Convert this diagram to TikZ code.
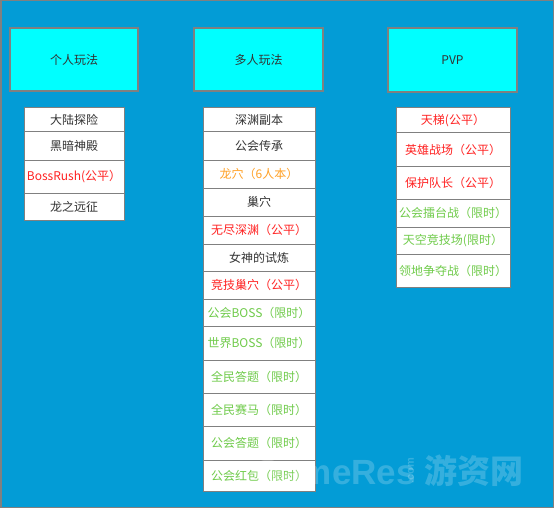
\documentclass[tikz,border=0pt]{standalone}
\usepackage{fontspec}
\setmainfont{Noto Sans CJK SC}
\newfontfamily\wmlatin{Liberation Sans}
\usetikzlibrary{positioning}
\definecolor{bgblue}{HTML}{039CD6}
\definecolor{hdrcyan}{HTML}{00FFFF}
\definecolor{edgegray}{HTML}{808080}
\definecolor{txtdark}{HTML}{333333}
\definecolor{txtred}{HTML}{FF2222}
\definecolor{txtorange}{HTML}{FFA126}
\definecolor{txtgreen}{HTML}{6FCB4A}
\tikzset{
  hdrbox/.style={draw=edgegray, line width=1.2pt, fill=hdrcyan, inner sep=0pt, text=txtdark, font=\fontsize{12}{14}\selectfont},
  cellbox/.style={draw=edgegray, line width=1pt, fill=white, inner sep=0pt, text=txtdark, font=\fontsize{12}{14}\selectfont},
  redt/.style={text=txtred},
  oranget/.style={text=txtorange},
  greent/.style={text=txtgreen},
  wmark/.style={text=white, opacity=0.2, inner sep=0pt}
}
% \cellnode{name}{xcenter}{y1}{y2}{width}{style}{text}
\newcommand\cellnode[7]{%
  \node[cellbox,#6, minimum width={#5*1pt}, minimum height={(#4-#3)*1pt}] (#1) at ({#2},{(#3+#4)/2}) {#7};}
\begin{document}
\begin{tikzpicture}[x=1pt,y=-1pt]
\useasboundingbox (0,0) rectangle (554,508);
\fill[bgblue] (0,0) rectangle (554,508);
\draw[edgegray, line width=1.5pt] (0.75,0.75) rectangle (553.25,507.25);
% headers
\node[hdrbox, minimum width=128pt, minimum height=63pt] (h1) at (74,59.5) {个人玩法};
\node[hdrbox, minimum width=129pt, minimum height=63pt] (h2) at (258.5,59.5) {多人玩法};
\node[hdrbox, minimum width=129pt, minimum height=64pt] (h3) at (452.5,60) {PVP};
% column 1
\cellnode{a1}{74}{108}{132}{100}{}{大陆探险}
\cellnode{a2}{74}{132}{160}{100}{}{黑暗神殿}
\cellnode{a3}{74}{160}{193}{100}{redt}{BossRush(公平）}
\cellnode{a4}{74}{193}{220}{100}{}{龙之远征}
% column 2
\cellnode{b1}{259}{108}{132}{112}{}{深渊副本}
\cellnode{b2}{259}{132}{160}{112}{}{公会传承}
\cellnode{b3}{259}{160}{188}{112}{oranget}{龙穴（6人本）}
\cellnode{b4}{259}{188}{216}{112}{}{巢穴}
\cellnode{b5}{259}{216}{244}{112}{redt}{无尽深渊（公平）}
\cellnode{b6}{259}{244}{271}{112}{}{女神的试炼}
\cellnode{b7}{259}{271}{299}{112}{redt}{竞技巢穴（公平）}
\cellnode{b8}{259}{299}{326}{112}{greent}{公会BOSS（限时）}
\cellnode{b9}{259}{326}{360}{112}{greent}{世界BOSS（限时）}
\cellnode{b10}{259}{360}{393}{112}{greent}{全民答题（限时）}
\cellnode{b11}{259}{393}{426}{112}{greent}{全民赛马（限时）}
\cellnode{b12}{259}{426}{460}{112}{greent}{公会答题（限时）}
\cellnode{b13}{259}{460}{491}{112}{greent}{公会红包（限时）}
% column 3
\cellnode{c1}{453}{108}{133}{114}{redt}{天梯(公平）}
\cellnode{c2}{453}{133}{166}{114}{redt}{英雄战场（公平）}
\cellnode{c3}{453}{166}{199}{114}{redt}{保护队长（公平）}
\cellnode{c4}{453}{199}{227}{114}{greent}{公会擂台战（限时）}
\cellnode{c5}{453}{227}{254}{114}{greent}{天空竞技场(限时）}
\cellnode{c6}{453}{254}{287}{114}{greent}{领地争夺战（限时）}
% watermark
\node[wmark, anchor=west, font=\wmlatin\bfseries\fontsize{35}{35}\selectfont] (wm1) at (254,472) {GameRes};
\node[wmark, rotate=90, font=\wmlatin\bfseries\fontsize{11}{11}\selectfont] (wm2) at (411,471) {.com};
\node[wmark, anchor=west, font=\bfseries\fontsize{33}{33}\selectfont] (wm3) at (424,471) {游资网};
\end{tikzpicture}
\end{document}
